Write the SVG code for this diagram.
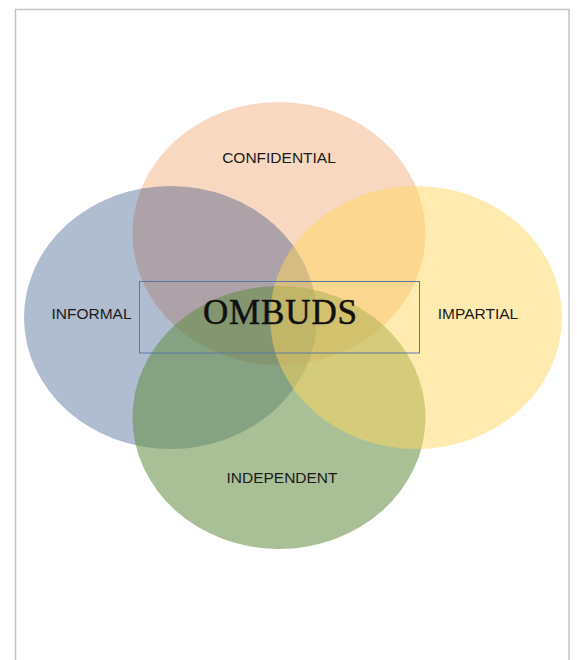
<svg xmlns="http://www.w3.org/2000/svg" width="577" height="660" viewBox="0 0 577 660">
  <style>
    .label { font-family: "Liberation Sans", Arial, sans-serif; font-size: 15.5px; fill: #1a1a1a; text-anchor: middle; }
    .title { font-family: "Liberation Serif", "Times New Roman", serif; font-size: 35px; fill: #111111; stroke: #111111; stroke-width: 0.5; text-anchor: middle; }
  </style>
  <rect width="577" height="660" fill="#ffffff"/>
  <!-- page outline -->
  <rect x="15.5" y="9.5" width="553.5" height="700" fill="none" stroke="#c4c4c4" stroke-width="1.5"/>

  <g id="confidential">
    <ellipse cx="279" cy="233.5" rx="146.5" ry="131.5" fill="#f4b183" fill-opacity="0.5"/>
    <text class="label" x="279" y="163">CONFIDENTIAL</text>
  </g>
  <g id="informal">
    <ellipse cx="170.5" cy="317.5" rx="146.5" ry="131.5" fill="#1e4077" fill-opacity="0.35"/>
    <text class="label" x="91.5" y="319">INFORMAL</text>
  </g>
  <g id="independent">
    <ellipse cx="279" cy="417.5" rx="146.5" ry="131.5" fill="#638c42" fill-opacity="0.55"/>
    <text class="label" x="282" y="483">INDEPENDENT</text>
  </g>
  <g id="impartial">
    <ellipse cx="416" cy="317.5" rx="146" ry="131.5" fill="#ffd55f" fill-opacity="0.5"/>
    <text class="label" x="478" y="319">IMPARTIAL</text>
  </g>

  <g id="ombuds">
    <rect x="139.5" y="281.5" width="280" height="71.5" fill="none" stroke="#5878a3" stroke-width="1"/>
    <text class="title" x="280" y="323.5" textLength="154" lengthAdjust="spacing">OMBUDS</text>
  </g>
</svg>
